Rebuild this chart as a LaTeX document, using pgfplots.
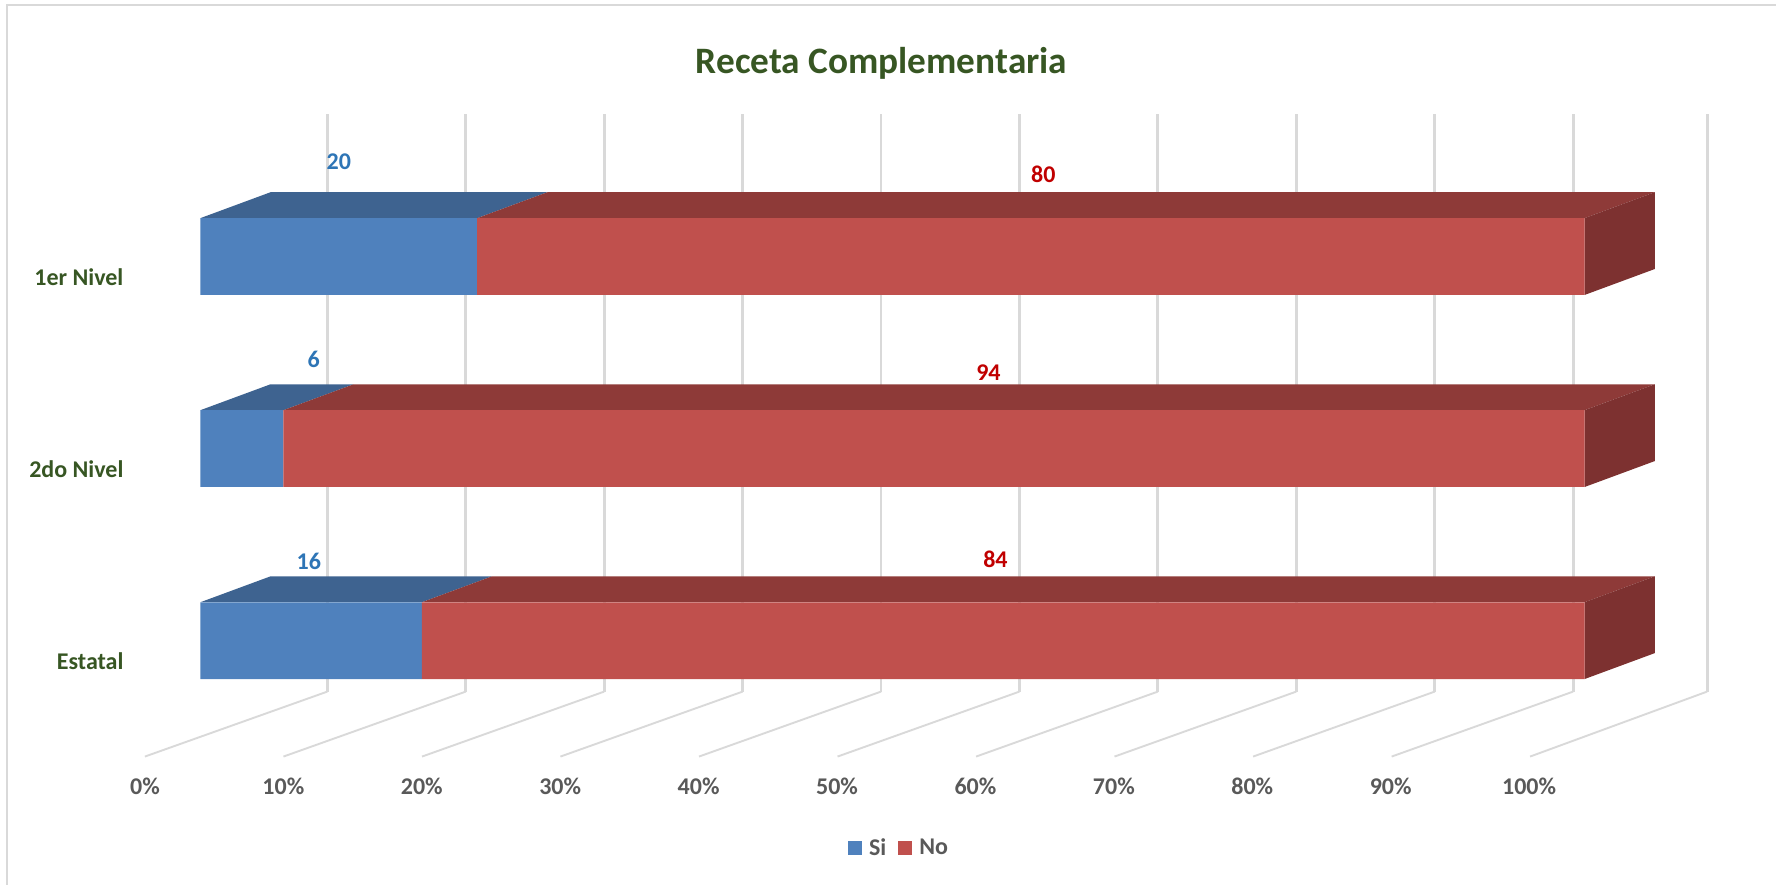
\documentclass[border=0pt]{standalone}
\usepackage{pgfplots}
\pgfplotsset{compat=1.18}
\usepackage{fontspec}
\setmainfont{Carlito}
\definecolor{siFront}{HTML}{4F81BD}
\definecolor{siTop}{HTML}{3E6390}
\definecolor{noFront}{HTML}{C0504D}
\definecolor{noTop}{HTML}{8E3A38}
\definecolor{noSide}{HTML}{7D3130}
\definecolor{gridGray}{HTML}{D9D9D9}
\definecolor{frameGray}{HTML}{D9D9D9}
\definecolor{darkGreen}{HTML}{375623}
\definecolor{tickGray}{HTML}{595959}
\definecolor{siLabel}{HTML}{2E75B6}
\definecolor{noLabel}{HTML}{C00000}
\pgfplotsset{
  wall/.style={draw=gridGray, line width=2.9pt, no markers, forget plot},
  floor/.style={draw=gridGray, line width=1.9pt, no markers, forget plot},
  face/.style={draw=none, fill=#1, no markers, forget plot},
  vlabel/.style={draw=none, no markers, forget plot, nodes near coords,
    point meta=explicit symbolic,
    every node near coord/.append style={anchor=center, inner sep=0pt,
      text=#1, font=\fontsize{24}{26}\selectfont\bfseries}},
}
\begin{document}
\begin{tikzpicture}
\begin{axis}[
  scale only axis, width=1777pt, height=885pt,
  xmin=-14.477, xmax=113.83, ymin=-1.2698, ymax=3.3359,
  clip=false,
  axis line style={draw=none}, tick style={draw=none},
  axis x line*=bottom, axis y line*=left,
  xtick={0,10,...,100},
  xticklabels={0\%,10\%,20\%,30\%,40\%,50\%,60\%,70\%,80\%,90\%,100\%},
  ytick={0,1,2},
  yticklabels={Estatal,2do Nivel,1er Nivel},
  xticklabel style={anchor=center, xshift=-55.5pt, yshift=98pt,
    text=tickGray, font=\fontsize{24}{26}\selectfont\bfseries},
  yticklabel style={anchor=east, xshift=127pt, yshift=-21pt,
    text=darkGreen, font=\fontsize{24}{26}\selectfont\bfseries},
  title={Receta Complementaria},
  title style={at={(axis description cs:0.4964,0.922)}, anchor=center,
    text=darkGreen, font=\fontsize{37.3}{40}\selectfont\bfseries},
  legend columns=2,
  legend cell align=left,
  legend style={at={(axis description cs:0.5062,0.0418)}, anchor=center,
    draw=none, fill=none, inner sep=0pt,
    font=\fontsize{24}{26}\selectfont\bfseries, text=tickGray,
    /tikz/column 1/.style={column sep=5pt},
    /tikz/column 2/.style={column sep=10pt},
    /tikz/column 3/.style={column sep=5pt}},
]
% floor lines of the value axis
\addplot[floor] coordinates {(-4.01,-0.6037) (9.17,-0.2654)};
\addplot[floor] coordinates {(6.00,-0.6037) (19.17,-0.2654)};
\addplot[floor] coordinates {(16.01,-0.6037) (29.17,-0.2654)};
\addplot[floor] coordinates {(26.01,-0.6037) (39.17,-0.2654)};
\addplot[floor] coordinates {(36.02,-0.6037) (49.17,-0.2654)};
\addplot[floor] coordinates {(46.03,-0.6037) (59.17,-0.2654)};
\addplot[floor] coordinates {(56.04,-0.6037) (69.17,-0.2654)};
\addplot[floor] coordinates {(66.04,-0.6037) (79.17,-0.2654)};
\addplot[floor] coordinates {(76.05,-0.6037) (89.17,-0.2654)};
\addplot[floor] coordinates {(86.06,-0.6037) (99.17,-0.2654)};
\addplot[floor] coordinates {(96.06,-0.6037) (108.85,-0.2654)};
% back wall gridlines
\addplot[wall] coordinates {(9.17,-0.2654) (9.17,2.7426)};
\addplot[wall] coordinates {(19.17,-0.2654) (19.17,2.7426)};
\addplot[wall] coordinates {(29.17,-0.2654) (29.17,2.7426)};
\addplot[wall] coordinates {(39.17,-0.2654) (39.17,2.7426)};
\addplot[wall] coordinates {(49.17,-0.2654) (49.17,2.7426)};
\addplot[wall] coordinates {(59.17,-0.2654) (59.17,2.7426)};
\addplot[wall] coordinates {(69.17,-0.2654) (69.17,2.7426)};
\addplot[wall] coordinates {(79.17,-0.2654) (79.17,2.7426)};
\addplot[wall] coordinates {(89.17,-0.2654) (89.17,2.7426)};
\addplot[wall] coordinates {(99.17,-0.2654) (99.17,2.7426)};
\addplot[wall] coordinates {(108.85,-0.2654) (108.85,2.7426)};
% top faces of the bars
\addplot[face=siTop] coordinates {(0,0.2) (16,0.2) (21.07,0.335) (5.07,0.335)} --cycle;
\addplot[face=noTop] coordinates {(16,0.2) (100,0.2) (105.07,0.335) (21.07,0.335)} --cycle;
\addplot[face=siTop] coordinates {(0,1.2) (6,1.2) (11.07,1.335) (5.07,1.335)} --cycle;
\addplot[face=noTop] coordinates {(6,1.2) (100,1.2) (105.07,1.335) (11.07,1.335)} --cycle;
\addplot[face=siTop] coordinates {(0,2.2) (20,2.2) (25.07,2.335) (5.07,2.335)} --cycle;
\addplot[face=noTop] coordinates {(20,2.2) (100,2.2) (105.07,2.335) (25.07,2.335)} --cycle;
% right end faces
\addplot[face=noSide] coordinates {(100,-0.2) (105.07,-0.065) (105.07,0.335) (100,0.2)} --cycle;
\addplot[face=noSide] coordinates {(100,0.8) (105.07,0.935) (105.07,1.335) (100,1.2)} --cycle;
\addplot[face=noSide] coordinates {(100,1.8) (105.07,1.935) (105.07,2.335) (100,2.2)} --cycle;
% front faces
\addplot[xbar stacked, bar width=76.8pt, fill=siFront, draw=none,
  legend image code/.code={\fill[siFront] (0pt,-7pt) rectangle (14pt,7pt);}]
  coordinates {(16,0) (6,1) (20,2)};
\addplot[xbar stacked, bar width=76.8pt, fill=noFront, draw=none,
  legend image code/.code={\fill[noFront] (0pt,-7pt) rectangle (14pt,7pt);}]
  coordinates {(84,0) (94,1) (80,2)};
\legend{Si,No}
% value labels above the bars
\addplot[vlabel=siLabel] table[meta=lab, row sep=\\] {
  x y lab \\ 7.83 0.4110 16 \\ 8.19 1.4620 6 \\ 10.00 2.4925 20 \\ };
\addplot[vlabel=noLabel] table[meta=lab, row sep=\\] {
  x y lab \\ 57.44 0.4215 84 \\ 56.93 1.3947 94 \\ 60.90 2.4300 80 \\ };
% chart frame
\addplot[draw=frameGray, line width=2pt, no markers, forget plot]
  coordinates {(-13.97,-1.2698) (-13.97,3.310) (113.83,3.310)};
\end{axis}
\end{tikzpicture}
\end{document}
